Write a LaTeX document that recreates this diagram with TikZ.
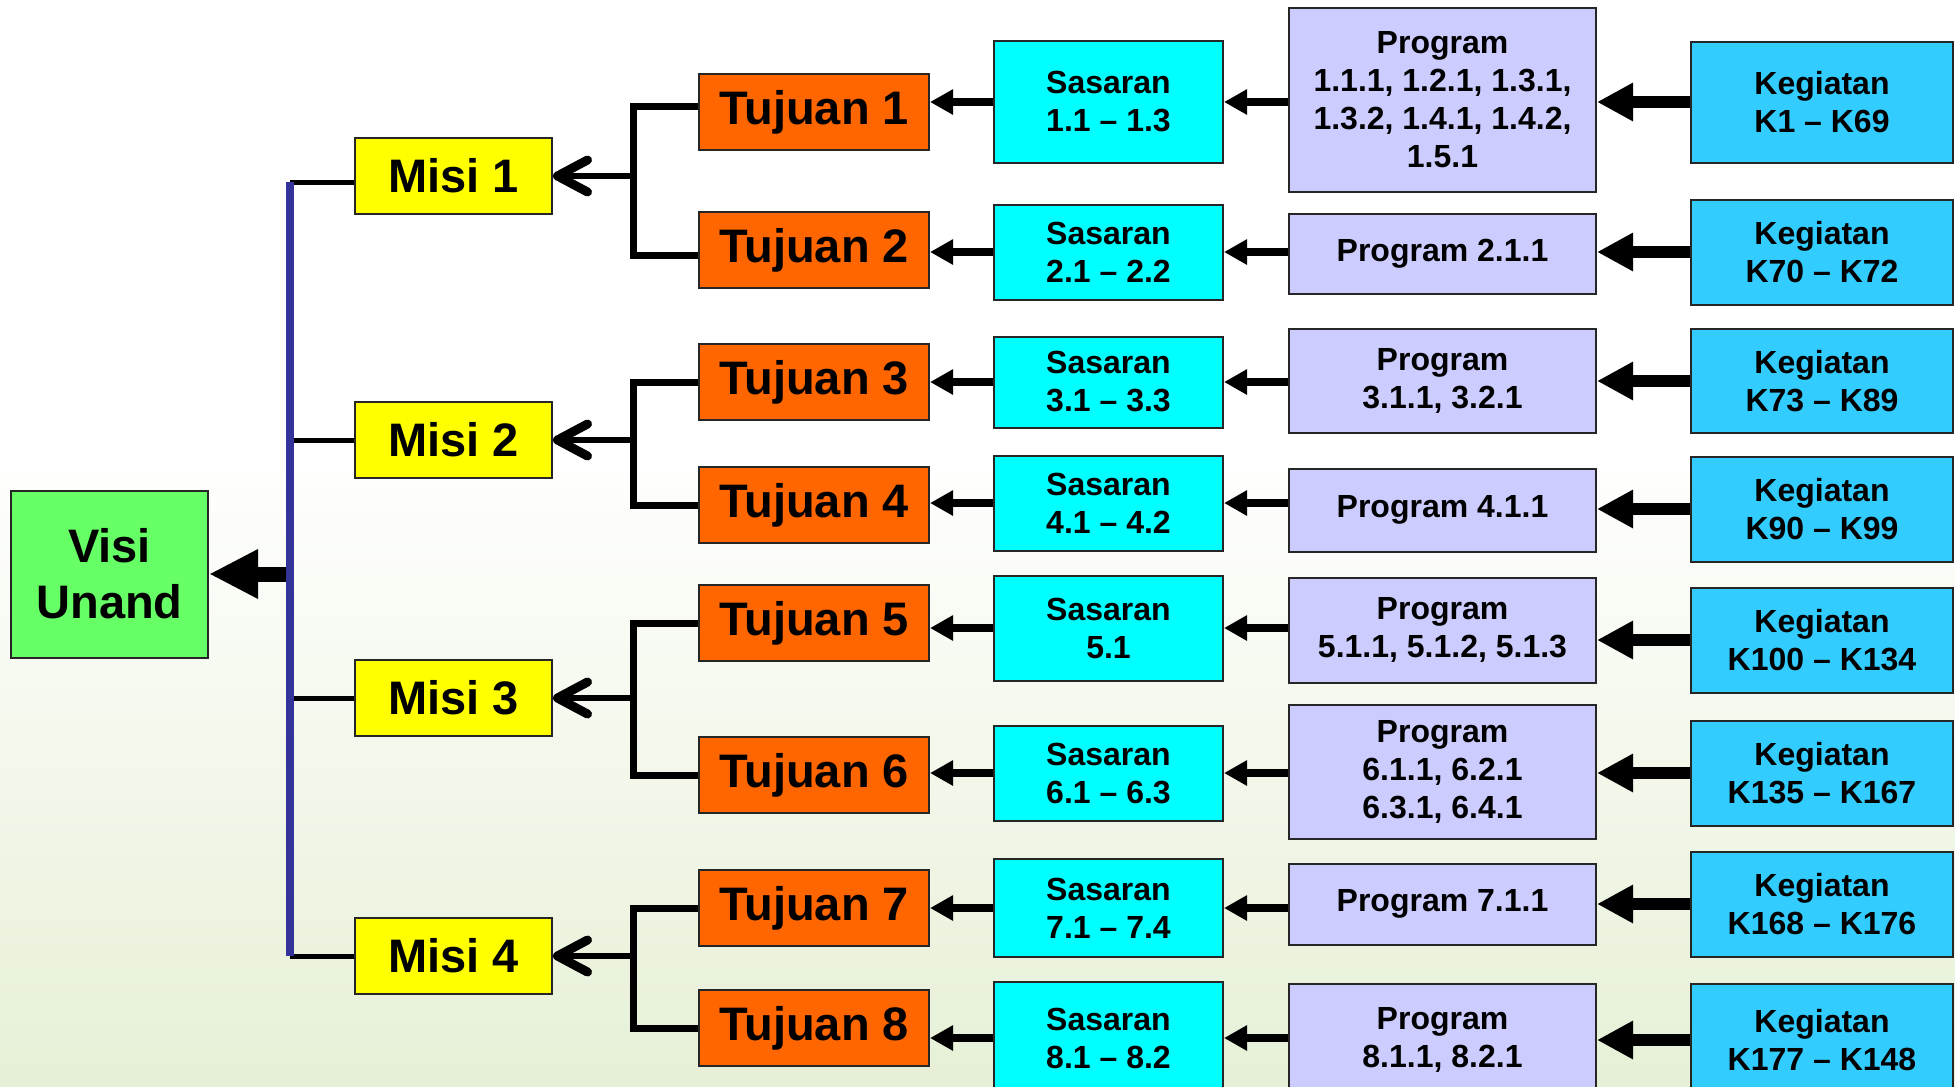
\documentclass[tikz,border=0pt]{standalone}
\usepackage{fontspec}
\setmainfont{Liberation Sans}
\usetikzlibrary{arrows.meta}
\definecolor{visigreen}{HTML}{66FF66}
\definecolor{misiyellow}{HTML}{FFFF00}
\definecolor{tujuanorange}{HTML}{FF6600}
\definecolor{sasarancyan}{HTML}{00FFFF}
\definecolor{programlav}{HTML}{CCCCFF}
\definecolor{kegiatanblue}{HTML}{33CCFF}
\definecolor{spineblue}{HTML}{333399}
\definecolor{bggreen}{HTML}{E6F0D6}
\tikzset{
    box/.style={draw=black!85, line width=2pt, inner sep=0pt, align=center,
        font=\bfseries\fontsize{32}{38}\selectfont},
    bigtext/.style={font=\bfseries\fontsize{47}{56}\selectfont},
    visibox/.style={box, bigtext, fill=visigreen, minimum width=197pt, minimum height=167pt},
    misibox/.style={box, bigtext, fill=misiyellow, minimum width=197pt, minimum height=76pt},
    tujuanbox/.style={box, bigtext, fill=tujuanorange, minimum width=230pt, minimum height=76pt},
    sasaranbox/.style={box, fill=sasarancyan, minimum width=229pt},
    programbox/.style={box, fill=programlav, minimum width=307pt},
    kegiatanbox/.style={box, fill=kegiatanblue, minimum width=262pt},
    visiarrow/.style={line width=15pt, -{Triangle[length=49pt,width=46pt]}},
    bigarrow/.style={line width=12pt, -{Triangle[length=36pt,width=36pt]}},
    midarrow/.style={line width=8.5pt, -{Triangle[length=23pt,width=24pt]}},
    openarrow/.style={line width=5.5pt, -{Straight Barb[length=30pt,width=32pt,line width=9pt,round]}},
    bracketline/.style={line width=7pt, line join=miter},
    misiline/.style={line width=5pt},
    spine/.style={line width=8pt, spineblue},
}
\begin{document}
\begin{tikzpicture}[x=1pt,y=-1pt]
    \useasboundingbox (0,0) rectangle (1955,1087);
    \fill[white] (0,0) rectangle (1955,450);
    \shade[top color=white, bottom color=bggreen] (0,450) rectangle (1955,1087);

    \node[visibox] (visi) at (109.5,574) {Visi\\Unand};

    \node[misibox] (m1) at (453.5,176) {Misi 1};
    \node[misibox] (m2) at (453.5,440) {Misi 2};
    \node[misibox] (m3) at (453.5,698) {Misi 3};
    \node[misibox] (m4) at (453.5,956) {Misi 4};

    \node[tujuanbox] (t1) at (814,112) {Tujuan 1};
    \node[tujuanbox] (t2) at (814,250) {Tujuan 2};
    \node[tujuanbox] (t3) at (814,382) {Tujuan 3};
    \node[tujuanbox] (t4) at (814,505) {Tujuan 4};
    \node[tujuanbox] (t5) at (814,623) {Tujuan 5};
    \node[tujuanbox] (t6) at (814,775) {Tujuan 6};
    \node[tujuanbox] (t7) at (814,908) {Tujuan 7};
    \node[tujuanbox] (t8) at (814,1028) {Tujuan 8};

    \node[sasaranbox, minimum height=122pt] (s1) at (1108.5,102) {Sasaran\\1.1 – 1.3};
    \node[sasaranbox, minimum height=95pt] (s2) at (1108.5,252) {Sasaran\\2.1 – 2.2};
    \node[sasaranbox, minimum height=91pt] (s3) at (1108.5,382) {Sasaran\\3.1 – 3.3};
    \node[sasaranbox, minimum height=95pt] (s4) at (1108.5,503) {Sasaran\\4.1 – 4.2};
    \node[sasaranbox, minimum height=105pt] (s5) at (1108.5,628) {Sasaran\\5.1};
    \node[sasaranbox, minimum height=95pt] (s6) at (1108.5,773) {Sasaran\\6.1 – 6.3};
    \node[sasaranbox, minimum height=98pt] (s7) at (1108.5,908) {Sasaran\\7.1 – 7.4};
    \node[sasaranbox, minimum height=112pt] (s8) at (1108.5,1038) {Sasaran\\8.1 – 8.2};

    \node[programbox, minimum height=184pt] (p1) at (1442.5,100) {Program\\1.1.1, 1.2.1, 1.3.1,\\1.3.2, 1.4.1, 1.4.2,\\1.5.1};
    \node[programbox, minimum height=80pt] (p2) at (1442.5,254) {Program 2.1.1};
    \node[programbox, minimum height=104pt] (p3) at (1442.5,381) {Program\\3.1.1, 3.2.1};
    \node[programbox, minimum height=83pt] (p4) at (1442.5,510) {Program 4.1.1};
    \node[programbox, minimum height=105pt] (p5) at (1442.5,630) {Program\\5.1.1, 5.1.2, 5.1.3};
    \node[programbox, minimum height=134pt] (p6) at (1442.5,772) {Program\\6.1.1, 6.2.1\\6.3.1, 6.4.1};
    \node[programbox, minimum height=81pt] (p7) at (1442.5,904) {Program 7.1.1};
    \node[programbox, minimum height=112pt] (p8) at (1442.5,1040) {Program\\8.1.1, 8.2.1};

    \node[kegiatanbox, minimum height=121pt] (k1) at (1822,102) {Kegiatan\\K1 – K69};
    \node[kegiatanbox, minimum height=105pt] (k2) at (1822,252) {Kegiatan\\K70 – K72};
    \node[kegiatanbox, minimum height=104pt] (k3) at (1822,381) {Kegiatan\\K73 – K89};
    \node[kegiatanbox, minimum height=105pt] (k4) at (1822,509) {Kegiatan\\K90 – K99};
    \node[kegiatanbox, minimum height=105pt] (k5) at (1822,640) {Kegiatan\\K100 – K134};
    \node[kegiatanbox, minimum height=105pt] (k6) at (1822,773) {Kegiatan\\K135 – K167};
    \node[kegiatanbox, minimum height=105pt] (k7) at (1822,904) {Kegiatan\\K168 – K176};
    \node[kegiatanbox, minimum height=112pt] (k8) at (1822,1040) {Kegiatan\\K177 – K148};

    % spine between visi and misi
    \coordinate (spinex) at (290,0);
    \draw[misiline] ([yshift=-6pt]m1.west) -- ([yshift=-6pt]m1.west -| spinex);
    \draw[misiline] (m2.west) -- (m2.west -| spinex);
    \draw[misiline] (m3.west) -- (m3.west -| spinex);
    \draw[misiline] (m4.west) -- (m4.west -| spinex);
    \draw[visiarrow] (visi.east -| spinex) -- (visi.east);
    \draw[spine] ([yshift=-6pt]m1.west -| spinex) -- (m4.west -| spinex);

    % tujuan brackets
    \draw[bracketline] ([yshift=6pt]t1.west) -- ++(-65,0) coordinate (b1) |- ([yshift=-5pt]t2.west);
    \draw[bracketline] (t3.west) -- ++(-65,0) coordinate (b2) |- (t4.west);
    \draw[bracketline] (t5.west) -- ++(-65,0) coordinate (b3) |- (t6.west);
    \draw[bracketline] (t7.west) -- ++(-65,0) coordinate (b4) |- (t8.west);
    \draw[openarrow] (b1 |- m1.east) -- (m1.east);
    \draw[openarrow] (b2 |- m2.east) -- (m2.east);
    \draw[openarrow] (b3 |- m3.east) -- (m3.east);
    \draw[openarrow] (b4 |- m4.east) -- (m4.east);

    % sasaran -> tujuan
    \draw[midarrow] (s1.west) -- (s1.west -| t1.east);
    \draw[midarrow] (s2.west) -- (s2.west -| t2.east);
    \draw[midarrow] (s3.west) -- (s3.west -| t3.east);
    \draw[midarrow] (s4.west) -- (s4.west -| t4.east);
    \draw[midarrow] (s5.west) -- (s5.west -| t5.east);
    \draw[midarrow] (s6.west) -- (s6.west -| t6.east);
    \draw[midarrow] (s7.west) -- (s7.west -| t7.east);
    \draw[midarrow] (s8.west) -- (s8.west -| t8.east);

    % program -> sasaran
    \draw[midarrow] (s1.east -| p1.west) -- (s1.east);
    \draw[midarrow] (s2.east -| p2.west) -- (s2.east);
    \draw[midarrow] (s3.east -| p3.west) -- (s3.east);
    \draw[midarrow] (s4.east -| p4.west) -- (s4.east);
    \draw[midarrow] (s5.east -| p5.west) -- (s5.east);
    \draw[midarrow] (s6.east -| p6.west) -- (s6.east);
    \draw[midarrow] (s7.east -| p7.west) -- (s7.east);
    \draw[midarrow] (s8.east -| p8.west) -- (s8.east);

    % kegiatan -> program
    \draw[bigarrow] (k1.west) -- (k1.west -| p1.east);
    \draw[bigarrow] (k2.west) -- (k2.west -| p2.east);
    \draw[bigarrow] (k3.west) -- (k3.west -| p3.east);
    \draw[bigarrow] (k4.west) -- (k4.west -| p4.east);
    \draw[bigarrow] (k5.west) -- (k5.west -| p5.east);
    \draw[bigarrow] (k6.west) -- (k6.west -| p6.east);
    \draw[bigarrow] (k7.west) -- (k7.west -| p7.east);
    \draw[bigarrow] (k8.west) -- (k8.west -| p8.east);
\end{tikzpicture}
\end{document}
